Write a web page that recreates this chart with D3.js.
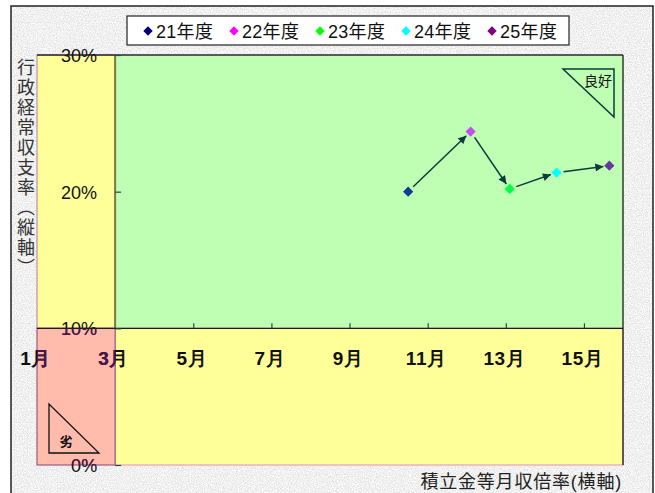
<!DOCTYPE html>
<html lang="ja">
<head>
<meta charset="UTF-8">
<title>行政経常収支率と積立金等月収倍率</title>
<style>
  html, body { margin: 0; padding: 0; background: #fff; }
  svg { display: block; font-family: "Liberation Sans", "Noto Sans CJK JP", sans-serif; }
  .axis path, .axis line { stroke: none; }
  .ticks line { stroke: #1e4a4a; stroke-width: 1.2; }
</style>
</head>
<body>
<div id="chart"></div>
<script src="https://cdn.jsdelivr.net/npm/d3@7/dist/d3.min.js"></script>
<script>
// series: one point per fiscal year
var years = ["21年度", "22年度", "23年度", "24年度", "25年度"];
var monthRatio = [10.5, 12.1, 13.1, 14.3, 15.65];   // 積立金等月収倍率 (months)
var balanceRate = [20.0, 24.4, 20.2, 21.4, 21.9];   // 行政経常収支率 (%)
var legendColors = ["#000080", "#ff00ff", "#00ff00", "#00ffff", "#800080"];
var markerColors = ["#0b3c9c", "#c44ef5", "#00ff44", "#00ffff", "#67389c"];

// axes
var xDomain = [1, 16], yDomain = [0, 30];
var xTicks = [1, 3, 5, 7, 9, 11, 13, 15];
var yTicks = [0, 10, 20, 30];
var xSplit = 3, ySplit = 10;   // axes cross here
var yTitle = "行政経常収支率︵縦軸︶";
var xTitle = "積立金等月収倍率(横軸)";

var W = 655, H = 493;
var plot = { left: 37, right: 623, top: 55, bottom: 465 };

var svg = d3.select("#chart").append("svg")
	.attr("width", W).attr("height", H);

var defs = svg.append("defs");

// grey granite background texture
var f = defs.append("filter").attr("id", "granite")
	.attr("x", 0).attr("y", 0).attr("width", "100%").attr("height", "100%");
f.append("feTurbulence").attr("type", "fractalNoise")
	.attr("baseFrequency", 0.85).attr("numOctaves", 3).attr("seed", 7);
f.append("feColorMatrix").attr("type", "matrix")
	.attr("values", "0.55 0 0 0 0.6  0.55 0 0 0 0.6  0.55 0 0 0 0.6  0 0 0 0 1");

defs.append("marker").attr("id", "arrow")
	.attr("viewBox", "0 0 10 10").attr("refX", 10).attr("refY", 5)
	.attr("markerWidth", 9).attr("markerHeight", 8)
	.attr("markerUnits", "userSpaceOnUse").attr("orient", "auto")
	.append("path").attr("d", "M0,0L10,5L0,10Z").attr("fill", "#0d3b3b");

var x = d3.scaleLinear().domain(xDomain).range([plot.left, plot.right]);
var y = d3.scaleLinear().domain(yDomain).range([plot.bottom, plot.top]);

// frame
svg.append("rect").attr("x", 11).attr("y", 6).attr("width", 642).attr("height", 500)
	.attr("filter", "url(#granite)");
svg.append("rect").attr("x", 11).attr("y", 6).attr("width", 642).attr("height", 500)
	.attr("fill", "none").attr("stroke", "#222").attr("stroke-width", 1.5);

// the four zones
var zones = [
	{ x0: xDomain[0], x1: xSplit, y0: ySplit, y1: yDomain[1], fill: "#ffff99", stroke: "#c98ab0" },
	{ x0: xSplit, x1: xDomain[1], y0: ySplit, y1: yDomain[1], fill: "#bfffb3", stroke: "none" },
	{ x0: xSplit, x1: xDomain[1], y0: yDomain[0], y1: ySplit, fill: "#ffff99", stroke: "#e4a0c0" },
	{ x0: xDomain[0], x1: xSplit, y0: yDomain[0], y1: ySplit, fill: "#ffbcad", stroke: "#9a5a86" }
];
svg.append("g").selectAll("rect").data(zones).join("rect")
	.attr("x", d => x(d.x0)).attr("y", d => y(d.y1))
	.attr("width", d => x(d.x1) - x(d.x0)).attr("height", d => y(d.y0) - y(d.y1))
	.attr("fill", d => d.fill).attr("stroke", d => d.stroke).attr("stroke-width", 1.2);

// borders of the green zone / axes
svg.append("line").attr("x1", x(xSplit)).attr("x2", x(xSplit))
	.attr("y1", y(yDomain[1])).attr("y2", y(ySplit))
	.attr("stroke", "#7d7a45").attr("stroke-width", 2);
svg.append("line").attr("x1", x(xDomain[0])).attr("x2", x(xDomain[1]))
	.attr("y1", y(ySplit)).attr("y2", y(ySplit))
	.attr("stroke", "#1a1a1a").attr("stroke-width", 1.3);
svg.append("line").attr("x1", x(xDomain[0])).attr("x2", x(xDomain[1]))
	.attr("y1", y(yDomain[1])).attr("y2", y(yDomain[1]))
	.attr("stroke", "#2a2a2a").attr("stroke-width", 1.3);
svg.append("line").attr("x1", x(xDomain[1])).attr("x2", x(xDomain[1]))
	.attr("y1", y(yDomain[1])).attr("y2", y(yDomain[0]))
	.attr("stroke", "#1a1a1a").attr("stroke-width", 1.3);

// ticks (inside the green zone)
var xAxis = d3.axisBottom(x).tickValues(xTicks).tickSize(-5).tickPadding(23)
	.tickFormat(d => d + "月");
var yAxis = d3.axisLeft(y).tickValues(yTicks).tickSize(-6).tickPadding(18)
	.tickFormat(d => d + "%");

function drawAxes(g, color) {
	var gx = g.append("g").attr("class", "axis")
		.attr("transform", "translate(0," + y(ySplit) + ")").call(xAxis);
	gx.selectAll("text").attr("font-size", 19).attr("font-weight", "bold")
		.attr("letter-spacing", 0.5).attr("fill", color).attr("dx", -2);
	var gy = g.append("g").attr("class", "axis")
		.attr("transform", "translate(" + x(xSplit) + ",0)").call(yAxis);
	gy.selectAll("text").attr("font-size", 18).attr("fill", color).attr("dy", "0.36em");
	gx.select(".domain").remove();
	gy.select(".domain").remove();
	return [gx, gy];
}
var main = drawAxes(svg.append("g"), "#111");
main[0].selectAll(".tick line").filter(d => d <= xSplit).remove();
main.forEach(g => g.selectAll(".tick line").attr("stroke", "#1e4a4a").attr("stroke-width", 1.3));
main.forEach(g => g.selectAll(".tick").classed("ticks", true));

// same labels tinted where the red zone covers them
defs.append("clipPath").attr("id", "redZone").append("rect")
	.attr("x", x(xDomain[0])).attr("y", y(ySplit))
	.attr("width", x(xSplit) - x(xDomain[0])).attr("height", y(yDomain[0]) - y(ySplit));
var tint = drawAxes(svg.append("g").attr("clip-path", "url(#redZone)"), "#4e1650");
tint.forEach(g => g.selectAll(".tick line").remove());

// arrows between consecutive years
var pts = years.map((k, i) => ({ year: k, px: x(monthRatio[i]), py: y(balanceRate[i]), i: i }));
var segs = d3.pairs(pts);
svg.append("g").selectAll("line").data(segs).join("line")
	.each(function (d) {
		var dx = d[1].px - d[0].px, dy = d[1].py - d[0].py, L = Math.hypot(dx, dy);
		var ux = dx / L, uy = dy / L;
		d3.select(this)
			.attr("x1", d[0].px + ux * 7).attr("y1", d[0].py + uy * 7)
			.attr("x2", d[1].px - ux * 6).attr("y2", d[1].py - uy * 6);
	})
	.attr("stroke", "#0d3b3b").attr("stroke-width", 1.5)
	.attr("marker-end", "url(#arrow)");

// diamonds
var diamond = d3.symbol(d3.symbolSquare, 52);
svg.append("g").selectAll("path").data(pts).join("path")
	.attr("d", diamond)
	.attr("transform", d => "translate(" + d.px + "," + d.py + ") rotate(45)")
	.attr("fill", d => markerColors[d.i]);

// 良好 / 劣 corner marks
svg.append("path").attr("d", "M563,69L614,69L614,117Z")
	.attr("fill", "none").attr("stroke", "#0d3b3b").attr("stroke-width", 1.5);
svg.append("text").attr("x", 598).attr("y", 86).attr("text-anchor", "middle")
	.attr("font-size", 14).attr("fill", "#111").text("良好");
svg.append("path").attr("d", "M49,404L49,453L99,453Z")
	.attr("fill", "none").attr("stroke", "#111").attr("stroke-width", 1.3);
svg.append("text").attr("x", 66).attr("y", 446).attr("text-anchor", "middle")
	.attr("font-size", 13).attr("font-weight", "bold").attr("fill", "#111").text("劣");

// axis titles
svg.append("text").attr("font-size", 18).attr("fill", "#333")
	.selectAll("tspan").data(Array.from(yTitle)).join("tspan")
	.attr("x", 26).attr("y", (d, i) => 74 + i * 20).attr("text-anchor", "middle")
	.text(d => d);
svg.append("text").attr("x", 622).attr("y", 488).attr("text-anchor", "end")
	.attr("font-size", 18).attr("letter-spacing", 0.8).attr("fill", "#222").text(xTitle);

// legend
var lg = svg.append("g");
lg.append("rect").attr("x", 127).attr("y", 16).attr("width", 442).attr("height", 29)
	.attr("fill", "#fff").attr("stroke", "#222").attr("stroke-width", 1.2);
var item = lg.selectAll("g").data(years).join("g")
	.attr("transform", (d, i) => "translate(" + (148 + i * 86) + ",31)");
item.append("path").attr("d", d3.symbol(d3.symbolSquare, 44))
	.attr("transform", "rotate(45)")
	.attr("fill", (d, i) => legendColors[i]);
item.append("text").attr("x", 8).attr("y", 7).attr("font-size", 18)
	.attr("letter-spacing", 0.3).attr("fill", "#111").text(d => d);
</script>
</body>
</html>
